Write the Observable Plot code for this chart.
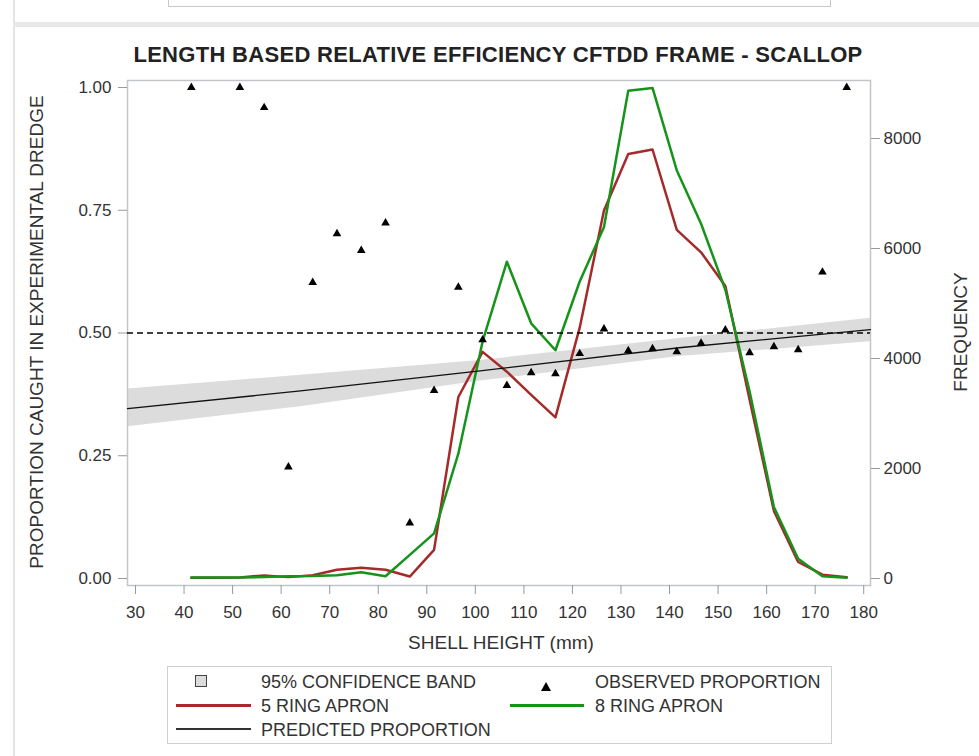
<!DOCTYPE html>
<html><head><meta charset="utf-8">
<script src="https://cdn.jsdelivr.net/npm/d3@7"></script>
<script src="https://cdn.jsdelivr.net/npm/@observablehq/plot@0.6"></script>
<style>
body{margin:0;background:#fff;font-family:"Liberation Sans",Arial,sans-serif;color:#333;}
#wrap{position:relative;width:979px;height:756px;overflow:hidden;background:#fff;}
.layer{position:absolute;left:0;top:0;}
.layer svg{background:transparent !important;}
.abs{position:absolute;white-space:nowrap;}
#title{left:118px;width:760px;top:43px;text-align:center;font-weight:bold;font-size:22px;line-height:24px;letter-spacing:0.3px;color:#222;}
.rot{transform:translate(-50%,-50%) rotate(-90deg);font-size:19px;line-height:20px;}
#xlab{transform:translate(-50%,-50%);font-size:19px;line-height:20px;}
#legend{left:167px;top:666px;width:665px;height:78px;border:1px solid #cfcfcf;box-sizing:border-box;}
.lt{position:absolute;font-size:18px;line-height:20px;transform:translateY(-50%);white-space:nowrap;}
.ls{position:absolute;}
</style></head><body>
<div id="wrap">
  <div class="abs" style="left:13px;top:0;width:2px;height:756px;background:#e4e4e4"></div>
  <div class="abs" style="left:13px;top:22px;width:966px;height:5px;background:#e8e8e8"></div>
  <div class="abs" style="left:168px;top:-10px;width:663px;height:17px;border:1px solid #c8c8c8;box-sizing:border-box"></div>
  <div id="l1" class="layer"></div>
  <div id="l2" class="layer"></div>
  <div id="l3" class="layer"></div>
  <div id="title" class="abs">LENGTH BASED RELATIVE EFFICIENCY CFTDD FRAME - SCALLOP</div>
  <div class="abs rot" style="left:37px;top:332px">PROPORTION CAUGHT IN EXPERIMENTAL DREDGE</div>
  <div class="abs rot" style="left:961px;top:332px">FREQUENCY</div>
  <div id="xlab" class="abs" style="left:501px;top:643px">SHELL HEIGHT (mm)</div>
  <div id="legend" class="abs"></div>
</div>
<script>
// ---- data ----
const shellHeight = [41.5,46.5,51.5,56.5,61.5,66.5,71.5,76.5,81.5,86.5,91.5,96.5,101.5,106.5,111.5,116.5,121.5,126.5,131.5,136.5,141.5,146.5,151.5,156.5,161.5,166.5,171.5,176.5];
const ring5Freq = [15,15,20,55,25,60,160,195,160,35,520,3300,4120,3760,3340,2930,4560,6690,7720,7800,6340,5930,5320,3250,1230,300,70,25];
const ring8Freq = [20,20,20,25,40,45,60,115,40,430,820,2270,4310,5760,4640,4150,5400,6390,8870,8920,7420,6450,5250,3400,1300,360,40,15];
const obsX = [41.5,51.5,56.5,61.5,66.5,71.5,76.5,81.5,86.5,91.5,96.5,101.5,106.5,111.5,116.5,121.5,126.5,131.5,136.5,141.5,146.5,151.5,156.5,161.5,166.5,171.5,176.5];
const obsProp = [1.0,1.0,0.959,0.227,0.603,0.702,0.668,0.724,0.113,0.383,0.593,0.486,0.393,0.419,0.417,0.458,0.508,0.464,0.468,0.462,0.479,0.506,0.460,0.472,0.466,0.624,1.0];
const predX = [28.35,64,101,142,181.4];
const predProp = [0.346,0.382,0.423,0.470,0.507];
const bandLower = [0.309,0.350,0.402,0.452,0.482];
const bandUpper = [0.386,0.414,0.444,0.489,0.530];
const xTicks = [30,40,50,60,70,80,90,100,110,120,130,140,150,160,170,180];
const propTicks = [0,0.25,0.5,0.75,1];
const freqTicks = [0,2000,4000,6000,8000];
const legendItems = ["95% CONFIDENCE BAND","OBSERVED PROPORTION","5 RING APRON","8 RING APRON","PREDICTED PROPORTION"];

const freqRows = shellHeight.map((x,i)=>({x, f5: ring5Freq[i], f8: ring8Freq[i]}));
const obsRows = obsX.map((x,i)=>({x, p: obsProp[i]}));
const predRows = predX.map((x,i)=>({x, p: predProp[i], lo: bandLower[i], hi: bandUpper[i]}));

const RED = "#a52a2a", GREEN = "#16931a";
const common = {
  width: 979, height: 660,
  marginLeft: 127, marginRight: 109, marginTop: 80, marginBottom: 75,
  style: {fontFamily: '"Liberation Sans", Arial, sans-serif', fontSize: "17px", color: "#333", background: "transparent", overflow: "visible"}
};
const xDom = [28.35, 181.4];
const yProp = [-0.01426, 1.01426];
const yFreq = [-127.3, 9054.5];

const p1 = Plot.plot({
  ...common, x: {domain: xDom}, y: {domain: yProp},
  marks: [
    Plot.areaY(predRows, {x: "x", y1: "lo", y2: "hi", fill: "#dcdcdc"}),
    Plot.frame({stroke: "#c2c6ca", strokeWidth: 1.5}),
    Plot.axisY({ticks: propTicks, tickFormat: d3.format(".2f"), tickSize: 9, tickPadding: 7, stroke: "#999", fill: "#333", label: null}),
    Plot.axisX({ticks: xTicks, tickFormat: "d", tickSize: 9, tickPadding: 11, stroke: "#999", fill: "#333", label: null})
  ]
});
const p2 = Plot.plot({
  ...common, x: {domain: xDom, axis: null}, y: {domain: yFreq},
  marks: [
    Plot.line(freqRows, {x: "x", y: "f5", stroke: RED, strokeWidth: 2.5}),
    Plot.line(freqRows, {x: "x", y: "f8", stroke: GREEN, strokeWidth: 2.5}),
    Plot.axisY({anchor: "right", ticks: freqTicks, tickFormat: "d", tickSize: 9, tickPadding: 4, stroke: "#999", fill: "#333", label: null})
  ]
});
const p3 = Plot.plot({
  ...common, x: {domain: xDom, axis: null}, y: {domain: yProp, axis: null},
  marks: [
    Plot.ruleY([0.5], {stroke: "#000", strokeWidth: 1.5, strokeDasharray: "6,4"}),
    Plot.line(predRows, {x: "x", y: "p", stroke: "#111", strokeWidth: 1.3}),
    Plot.dot(obsRows, {x: "x", y: "p", symbol: "triangle", r: 3.2, fill: "#000", stroke: "none"})
  ]
});
document.getElementById("l1").appendChild(p1);
document.getElementById("l2").appendChild(p2);
document.getElementById("l3").appendChild(p3);

// legend
const lg = document.getElementById("legend");
function addText(t, x, y){ const d=document.createElement("div"); d.className="lt"; d.textContent=t; d.style.left=(x-167)+"px"; d.style.top=(y-666)+"px"; lg.appendChild(d); }
function addSym(html, x, y, w, h){ const d=document.createElement("div"); d.className="ls"; d.innerHTML=html; d.style.left=(x-167)+"px"; d.style.top=(y-666-h/2)+"px"; d.style.width=w+"px"; d.style.height=h+"px"; lg.appendChild(d); }
addSym('<div style="width:10px;height:10px;background:#dcdcdc;border:1px solid #444;margin:0"></div>', 194, 680, 12, 12);
addText(legendItems[0], 260, 681);
addSym('<svg width="10" height="9"><path d="M5,0L10,9L0,9Z" fill="#000"/></svg>', 540, 680, 10, 9);
addText(legendItems[1], 594, 681);
addSym('<div style="width:75px;height:3px;background:'+RED+';margin-top:0"></div>', 175, 704, 75, 3);
addText(legendItems[2], 260, 705);
addSym('<div style="width:74px;height:3px;background:'+GREEN+'"></div>', 509, 704, 74, 3);
addText(legendItems[3], 594, 705);
addSym('<div style="width:75px;height:1.5px;background:#333"></div>', 175, 728, 75, 2);
addText(legendItems[4], 260, 729);
</script>
</body></html>
